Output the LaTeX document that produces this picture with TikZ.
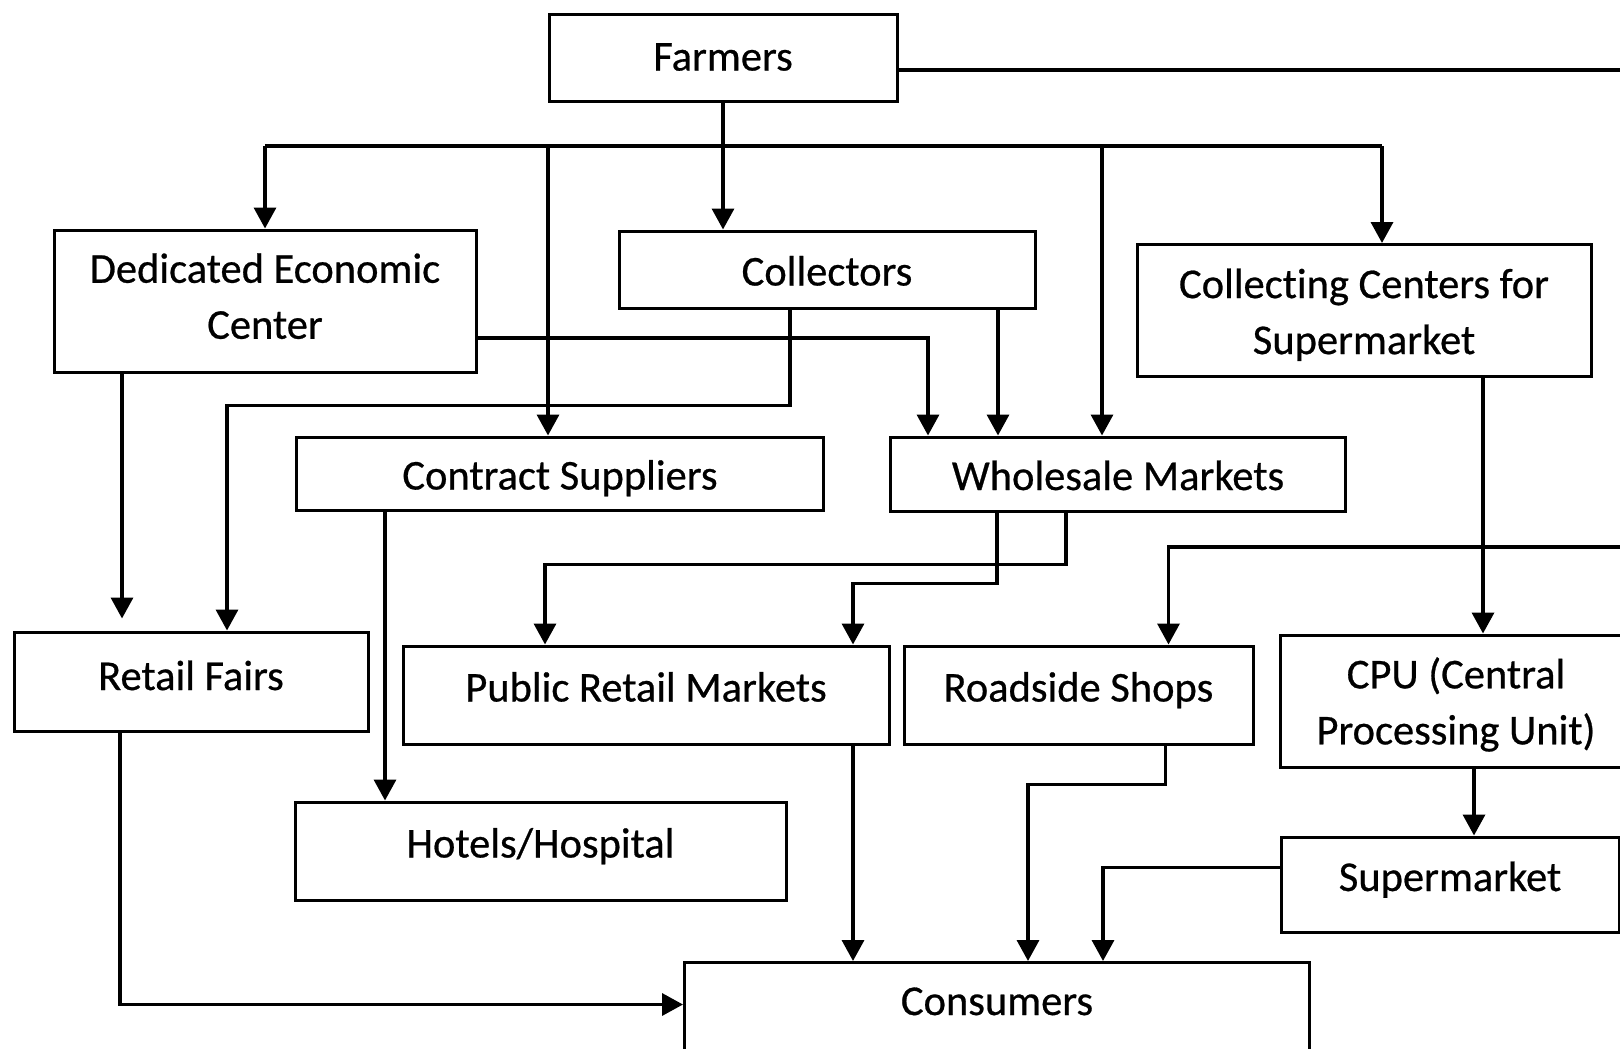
\documentclass[tikz,border=0pt]{standalone}
\usepackage{fontspec}
\setmainfont{Carlito}[FakeBold=0.6,Ligatures=NoCommon]
\usetikzlibrary{arrows.meta}
\tikzset{
  channel/.style={
      rectangle,
      draw=black,
      line width=3pt,
      inner sep=0pt,
      align=center,
      font=\fontsize{42.5}{56}\selectfont
  },
  oneline/.style={text height=28pt,text depth=3pt},
  lowered/.style={text height=32pt,text depth=0pt},
  raised/.style={text height=28pt,text depth=15pt}
}

\begin{document}
\begin{tikzpicture}[x=1pt,y=-1pt,line width=3.5pt,>={Triangle[length=21pt,width=22pt]}]
    \useasboundingbox (0,0) rectangle (1620,1049);
    \clip (0,0) rectangle (1620,1049);

    \node[channel,oneline,minimum width=348pt,minimum height=86pt] (farmers) at (723,58) {Farmers};
    \node[channel,minimum width=422pt,minimum height=142pt] (dec) at (265,301) {Dedicated Economic\\Center\rule[-10pt]{0pt}{10pt}};
    \node[channel,lowered,minimum width=416pt,minimum height=77pt] (collectors) at (827,269.5) {Collectors};
    \node[channel,minimum width=454pt,minimum height=132pt] (ccs) at (1364,310.5) {\rule{0pt}{38pt}Collecting Centers for\\Supermarket};
    \node[channel,lowered,minimum width=527pt,minimum height=73pt] (contract) at (560,473.5) {Contract Suppliers};
    \node[channel,lowered,minimum width=455pt,minimum height=74pt] (wholesale) at (1118,474) {Wholesale Markets};
    \node[channel,raised,minimum width=354pt,minimum height=99pt,text depth=11pt] (rfairs) at (191,681.5) {Retail Fairs};
    \node[channel,raised,minimum width=486pt,minimum height=98pt] (pretail) at (646,695) {Public Retail Markets};
    \node[channel,raised,minimum width=349pt,minimum height=98pt] (roadside) at (1078.5,695) {Roadside Shops};
    \node[channel,minimum width=352pt,minimum height=132pt] (cpu) at (1456,701) {\rule{0pt}{38pt}CPU (Central\\Processing Unit)};
    \node[channel,raised,minimum width=491pt,minimum height=98pt] (hotels) at (540.5,851) {Hotels/Hospital};
    \node[channel,raised,minimum width=338pt,minimum height=95pt] (smarket) at (1450,884.5) {Supermarket};
    \node[channel,raised,minimum width=625pt,minimum height=96pt,anchor=north,text depth=19pt] (consumers) at (997,961) {Consumers};

    \coordinate (busL) at (265,146);
    \coordinate (busR) at (1382,146);
    \coordinate (b1) at (548,146);
    \coordinate (b2) at (1102,146);
    \coordinate (edge) at (1632,547);

    \draw[->] (farmers.south) -- (farmers.south |- collectors.north);
    \draw (busL) -- (busR);
    \draw[->] (busL) -- (dec.north);
    \draw[->] (b1) -- (b1 |- contract.north);
    \draw[->] (b2) -- (b2 |- wholesale.north);
    \draw[->] (busR) -- (busR |- ccs.north);
    \draw[->] ([yshift=-12pt]farmers.east) -| (edge) -| ([xshift=90pt]roadside.north);

    \draw[->,shorten >=12pt] ([xshift=-143pt]dec.south) -- ([xshift=-143pt]dec.south |- rfairs.north);
    \draw[->] ([yshift=-37pt]dec.east) -| ([xshift=-190pt]wholesale.north);
    \draw[->] ([xshift=-37pt]collectors.south) -- ++(0,96) -| ([xshift=36pt]rfairs.north);
    \draw[->] ([xshift=171pt]collectors.south) -- ([xshift=171pt]collectors.south |- wholesale.north);
    \draw[->] ([xshift=119pt]ccs.south) -- ([xshift=119pt]ccs.south |- cpu.north);

    \draw[->] ([xshift=-175pt]contract.south) -- ([xshift=-175pt]contract.south |- hotels.north);
    \draw[->] ([xshift=-52pt]wholesale.south) -- ++(0,52) -| ([xshift=-101pt]pretail.north);
    \draw[->] ([xshift=-121pt]wholesale.south) -- ++(0,71) -| ([xshift=207pt]pretail.north);
    \draw[->] ([xshift=18pt]cpu.south) -- ([xshift=18pt]cpu.south |- smarket.north);

    \draw[->] ([xshift=-71pt]rfairs.south) |- ([yshift=6pt]consumers.west);
    \draw[->] ([xshift=207pt]pretail.south) -- ([xshift=207pt]pretail.south |- consumers.north);
    \draw[->] ([xshift=87pt]roadside.south) -- ++(0,39) -| ([xshift=31pt]consumers.north);
    \draw[->] ([yshift=17pt]smarket.west) -| ([xshift=106pt]consumers.north);
\end{tikzpicture}
\end{document}
